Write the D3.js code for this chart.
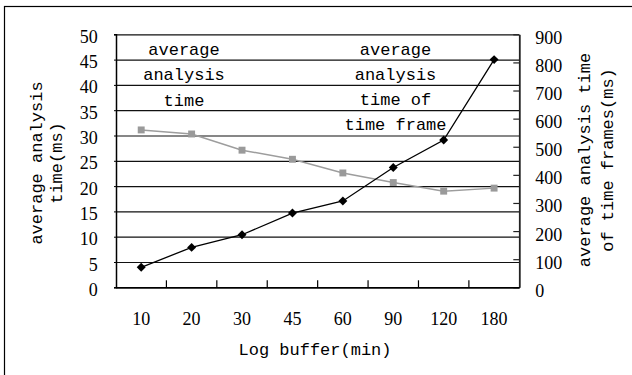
<!DOCTYPE html>
<html>
<head>
<meta charset="utf-8">
<script src="https://cdn.jsdelivr.net/npm/d3@7"></script>
<style>
  html, body { margin: 0; padding: 0; background: #fff; }
  svg { display: block; }
  .num { font-family: "Liberation Serif", "Times New Roman", serif; font-size: 18px; fill: #000; }
  .lbl { font-family: "Liberation Mono", "DejaVu Sans Mono", monospace; font-size: 17px; fill: #000; }
</style>
</head>
<body>
<script>
// Log buffer lengths (minutes)
const categories = ["10", "20", "30", "45", "60", "90", "120", "180"];
// Average analysis time (ms), left axis
const analysisTime = [31.1, 30.3, 27.1, 25.3, 22.6, 20.7, 19.0, 19.6];
// Average analysis time of time frames (ms), right axis
const frameTime = [71, 142, 187, 264, 307, 426, 524, 810];
// Axis ticks
const leftTicks = [0, 5, 10, 15, 20, 25, 30, 35, 40, 45, 50];
const rightTicks = [0, 100, 200, 300, 400, 500, 600, 700, 800, 900];
// In-plot series captions
const leftCaption = ["average", "analysis", "time"];
const rightCaption = ["average", "analysis", "time of", "time frame"];
const xTitle = "Log buffer(min)";
const yLeftTitle = ["average analysis", "time(ms)"];
const yRightTitle = ["average analysis time", "of time frames(ms)"];

const W = 632, H = 375;
const plot = { left: 116, right: 519.3, top: 34.3, bottom: 287.3 };

const svg = d3.select("body").append("svg").attr("width", W).attr("height", H);

// outer chart frame
svg.append("rect")
  .attr("x", 4.5).attr("y", 6.5).attr("width", 700).attr("height", 500)
  .attr("fill", "none").attr("stroke", "#000").attr("stroke-width", 1.2);

const x = d3.scaleBand().domain(categories).range([plot.left, plot.right]);
const yL = d3.scaleLinear().domain([0, 50]).range([plot.bottom, plot.top]);
const yR = d3.scaleLinear().domain([0, 900]).range([plot.bottom, plot.top]);
const cx = d => x(d) + x.bandwidth() / 2;

// horizontal gridlines at the left-axis ticks
svg.append("g")
  .attr("transform", `translate(${plot.left},0)`)
  .call(d3.axisRight(yL).tickValues(leftTicks).tickSize(plot.right - plot.left).tickFormat(""))
  .call(g => g.select(".domain").remove())
  .call(g => g.selectAll(".tick line").attr("stroke", "#111").attr("stroke-width", 1.2));

// left axis
svg.append("g")
  .attr("transform", `translate(${plot.left},0)`)
  .call(d3.axisLeft(yL).tickValues(leftTicks).tickSize(2).tickPadding(16.3))
  .call(g => g.select(".domain").attr("stroke", "#000").attr("stroke-width", 1.5))
  .call(g => g.selectAll(".tick line").attr("stroke", "#000"))
  .call(g => g.selectAll(".tick text").attr("class", "num").attr("dy", 8).attr("font-family", null).attr("font-size", null));

// right axis: inward ticks + labels
svg.append("g")
  .attr("transform", `translate(${plot.right},0)`)
  .call(d3.axisLeft(yR).tickValues(rightTicks).tickSize(6).tickFormat("").tickSizeOuter(0))
  .call(g => g.select(".domain").attr("stroke", "#222").attr("stroke-width", 1.8))
  .call(g => g.selectAll(".tick line").attr("stroke", "#222").attr("stroke-width", 1.2));

svg.append("g")
  .attr("transform", `translate(${plot.right},0)`)
  .call(d3.axisRight(yR).tickValues(rightTicks).tickSize(0).tickPadding(16))
  .call(g => g.select(".domain").remove())
  .call(g => g.selectAll(".tick text").attr("class", "num").attr("dy", 9).attr("font-family", null).attr("font-size", null));

// bottom axis with category labels
svg.append("g")
  .attr("transform", `translate(0,${plot.bottom})`)
  .call(d3.axisBottom(x).tickSize(0).tickPadding(25))
  .call(g => g.select(".domain").attr("stroke", "#000").attr("stroke-width", 1.5))
  .call(g => g.selectAll(".tick text").attr("class", "num").attr("font-family", null).attr("font-size", null));

// category boundary tick marks, pointing up into the plot
svg.append("g").selectAll("line")
  .data(categories.slice(1))
  .join("line")
  .attr("x1", d => x(d)).attr("x2", d => x(d))
  .attr("y1", plot.bottom).attr("y2", plot.bottom - 7)
  .attr("stroke", "#000").attr("stroke-width", 1.2);

// grey series: average analysis time
svg.append("path")
  .datum(analysisTime)
  .attr("fill", "none").attr("stroke", "#9d9d9d").attr("stroke-width", 1.5)
  .attr("d", d3.line().x((d, i) => cx(categories[i])).y(d => yL(d)));
svg.append("g").selectAll("path")
  .data(analysisTime)
  .join("path")
  .attr("transform", (d, i) => `translate(${cx(categories[i])},${yL(d)})`)
  .attr("d", d3.symbol(d3.symbolSquare, 48))
  .attr("fill", "#9a9a9a");

// black series: average analysis time of time frames
svg.append("path")
  .datum(frameTime)
  .attr("fill", "none").attr("stroke", "#000").attr("stroke-width", 1.3)
  .attr("d", d3.line().x((d, i) => cx(categories[i])).y(d => yR(d)));
svg.append("g").selectAll("path")
  .data(frameTime)
  .join("path")
  .attr("transform", (d, i) => `translate(${cx(categories[i])},${yR(d)}) rotate(45)`)
  .attr("d", d3.symbol(d3.symbolSquare, 40))
  .attr("fill", "#000");

// series captions inside the plot
svg.append("g").selectAll("text")
  .data(leftCaption)
  .join("text")
  .attr("class", "lbl")
  .attr("text-anchor", "middle")
  .attr("x", 184).attr("y", (d, i) => 55 + 25.3 * i)
  .text(d => d);

svg.append("g").selectAll("text")
  .data(rightCaption)
  .join("text")
  .attr("class", "lbl")
  .attr("text-anchor", "middle")
  .attr("x", 395.5).attr("y", (d, i) => 55 + 25.1 * i)
  .text(d => d);

// axis titles
svg.append("text")
  .attr("class", "lbl").attr("text-anchor", "middle")
  .attr("x", 315).attr("y", 355)
  .text(xTitle);

svg.append("g").selectAll("text")
  .data(yLeftTitle)
  .join("text")
  .attr("class", "lbl").attr("text-anchor", "middle")
  .attr("transform", (d, i) => `translate(${42 + 20 * i},${163}) rotate(-90)`)
  .text(d => d);

svg.append("g").selectAll("text")
  .data(yRightTitle)
  .join("text")
  .attr("class", "lbl").attr("text-anchor", "middle")
  .attr("transform", (d, i) => `translate(${590 + 23 * i},${160}) rotate(-90)`)
  .text(d => d);
</script>
</body>
</html>
